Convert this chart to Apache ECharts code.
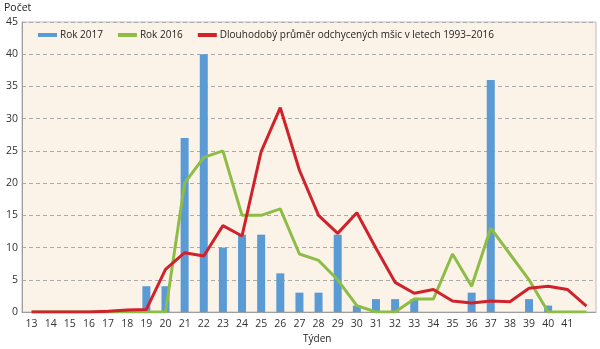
<!DOCTYPE html>
<html><head><meta charset="utf-8">
<script src="https://cdn.jsdelivr.net/npm/echarts@6/dist/echarts.min.js"></script>
<style>html,body{margin:0;padding:0;background:#fff}#c{width:600px;height:349px}</style>
</head><body><div id="c"></div>
<script>
const weeks = ['13','14','15','16','17','18','19','20','21','22','23','24','25','26','27','28','29','30','31','32','33','34','35','36','37','38','39','40','41',''];
const rok2017 = [null,null,null,null,null,null,4,4,27,40,10,12,12,6,3,3,12,1,2,2,2,null,null,3,36,null,2,1,null,null];
const rok2016 = [0,0,0,0,0,0,0,0,20,24,25,15,15,16,9,8,5,1,0,0,2,2,9,4,13,9,5,0,0,0];
const dlouhodoby = [0,0,0,0,0.1,0.3,0.4,6.6,9.2,8.7,13.4,11.8,24.9,31.7,22,15,12.2,15.4,9.9,4.6,2.9,3.5,1.7,1.4,1.7,1.6,3.7,4.0,3.5,0.9];
const yTicks = [0,5,10,15,20,25,30,35,40,45];
const names = ['Rok 2017','Rok 2016','Dlouhodobý průměr odchycených mšic v letech 1993–2016'];

const chart = echarts.init(document.getElementById('c'), null, {renderer:'canvas'});
const font = 'Open Sans';
chart.setOption({
  animation:false,
  textStyle:{fontFamily:font},
  grid:{left:22,right:4,top:22,bottom:37,show:true,backgroundColor:'#FCF3E8',borderColor:'#BDBDBD',borderWidth:1},
  legend:{left:38,top:30,padding:0,itemWidth:19,itemHeight:4,itemGap:15,
    textStyle:{fontFamily:font,fontSize:10,color:'#222',padding:[0,0,0,-2]},
    data:[{name:names[0],icon:'rect'},{name:names[1],icon:'rect'},{name:names[2],icon:'rect'}]},
  graphic:[
    {type:'text',left:4,top:3,style:{text:'Počet',font:'10.5px "Open Sans"',fill:'#222'}},
    {type:'text',left:303,top:334,style:{text:'Týden',font:'10px "Open Sans"',fill:'#222'}}
  ],
  xAxis:{type:'category',data:weeks,boundaryGap:true,
    axisLine:{lineStyle:{color:'#9E9E9E'}},axisTick:{show:false},
    axisLabel:{interval:0,fontSize:10.5,color:'#333',margin:7,fontFamily:font}},
  yAxis:{type:'value',min:0,max:45,interval:5,
    axisLine:{show:true,lineStyle:{color:'#9E9E9E'}},axisTick:{show:false},
    axisLabel:{fontSize:10.5,color:'#333',margin:4,fontFamily:font,
      formatter:v=>yTicks.includes(v)?String(v):''},
    splitLine:{lineStyle:{color:'#ABABAB',type:[4,3],width:1}}},
  series:[
    {name:names[0],type:'bar',data:rok2017,barWidth:8,itemStyle:{color:'#5B9BD5'}},
    {name:names[1],type:'line',data:rok2016,symbol:'none',lineStyle:{color:'#8DBD47',width:3},itemStyle:{color:'#8DBD47'}},
    {name:names[2],type:'line',data:dlouhodoby,symbol:'none',lineStyle:{color:'#D0222B',width:3},itemStyle:{color:'#D0222B'}}
  ]
});
</script></body></html>
